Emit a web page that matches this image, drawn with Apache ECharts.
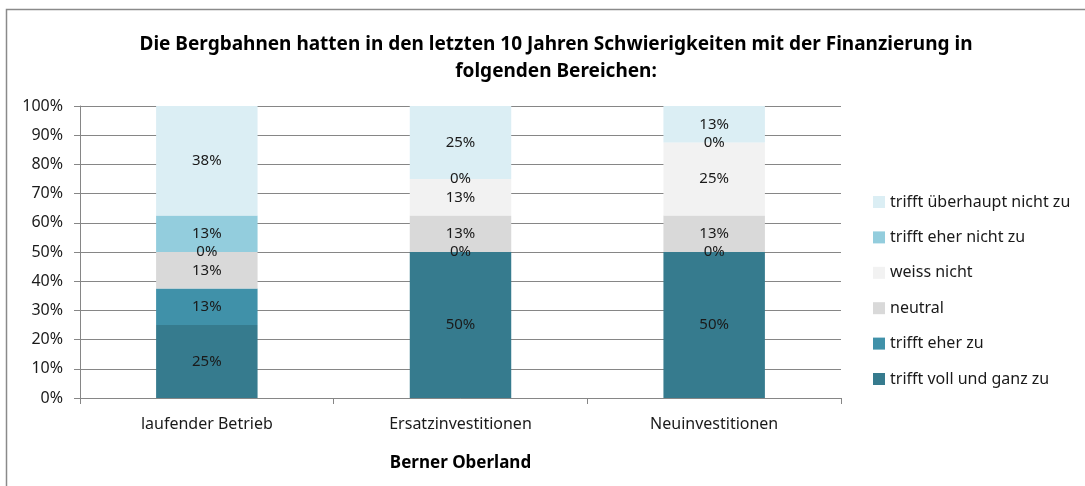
<!DOCTYPE html>
<html style="height: 100%">
  <head>
    <meta charset="utf-8" />
    <title>Berner Oberland</title>
    <script src="https://cdn.jsdelivr.net/npm/echarts@6/dist/echarts.min.js"></script>
  </head>
  <body style="height: 100%; margin: 0; background: #fff">
    <div id="main" style="width: 1085px; height: 486px"></div>
    <script type="text/javascript">
      // Werte aus der Grafik (Anteile in %)
      var categories = ["laufender Betrieb", "Ersatzinvestitionen", "Neuinvestitionen"];
      var vollUndGanz = [25, 50, 50];
      var eherZu = [12.5, 0, 0];
      var neutral = [12.5, 12.5, 12.5];
      var weissNicht = [0, 12.5, 25];
      var eherNicht = [12.5, 0, 0];
      var ueberhauptNicht = [37.5, 25, 12.5];

      var font = "Noto Sans";
      var myChart = echarts.init(document.getElementById("main"));

      function bar(name, data, color) {
        return {
          name: name,
          type: "bar",
          stack: "total",
          barWidth: "40%",
          data: data,
          itemStyle: { color: color },
          label: {
            show: true,
            position: "inside",
            color: "#1a1a1a",
            fontFamily: font,
            fontSize: 15,
            formatter: function (p) {
              return Math.round(p.value) + "%";
            },
          },
        };
      }

      var option = {
        animation: false,
        title: {
          text: "Die Bergbahnen hatten in den letzten 10 Jahren Schwierigkeiten mit der Finanzierung in\nfolgenden Bereichen:",
          left: 551,
          top: 26,
          textAlign: "center",
          textStyle: {
            fontFamily: font,
            fontSize: 19,
            fontWeight: "bold",
            color: "#000",
            lineHeight: 27,
          },
        },
        legend: {
          orient: "vertical",
          left: 868,
          top: 188,
          itemGap: 17.4,
          itemWidth: 12,
          itemHeight: 12,
          icon: "rect",
          textStyle: { fontFamily: font, fontSize: 16, color: "#1a1a1a", lineHeight: 18 },
          data: [
            "trifft überhaupt nicht zu",
            "trifft eher nicht zu",
            "weiss nicht",
            "neutral",
            "trifft eher zu",
            "trifft voll und ganz zu",
          ],
        },
        grid: { left: 80, right: 244, top: 106, bottom: 88 },
        xAxis: {
          type: "category",
          data: categories,
          name: "Berner Oberland",
          nameLocation: "middle",
          nameGap: 57,
          nameTextStyle: { fontFamily: font, fontSize: 17, fontWeight: "bold", color: "#000" },
          axisLine: { lineStyle: { color: "#868686" } },
          axisTick: { show: true, length: 6, lineStyle: { color: "#868686" } },
          axisLabel: { fontFamily: font, fontSize: 16, color: "#1a1a1a", margin: 18 },
        },
        yAxis: {
          type: "value",
          min: 0,
          max: 100,
          interval: 10,
          axisLine: { show: true, lineStyle: { color: "#868686" } },
          axisTick: { show: true, length: 6, lineStyle: { color: "#868686" } },
          splitLine: { lineStyle: { color: "#868686" } },
          axisLabel: {
            fontFamily: font,
            fontSize: 16,
            color: "#1a1a1a",
            margin: 17,
            formatter: "{value}%",
          },
        },
        graphic: [
          {
            type: "polyline",
            shape: { points: [[6.5, 486], [6.5, 9.5], [1085, 9.5]] },
            style: { stroke: "#8a8a8a", lineWidth: 1.5, fill: null },
          },
        ],
        series: [
          bar("trifft voll und ganz zu", vollUndGanz, "#367b8e"),
          bar("trifft eher zu", eherZu, "#4091a9"),
          bar("neutral", neutral, "#d9d9d9"),
          bar("weiss nicht", weissNicht, "#f2f2f2"),
          bar("trifft eher nicht zu", eherNicht, "#93cddd"),
          bar("trifft überhaupt nicht zu", ueberhauptNicht, "#dbeef4"),
        ],
      };

      myChart.setOption(option);
    </script>
  </body>
</html>
